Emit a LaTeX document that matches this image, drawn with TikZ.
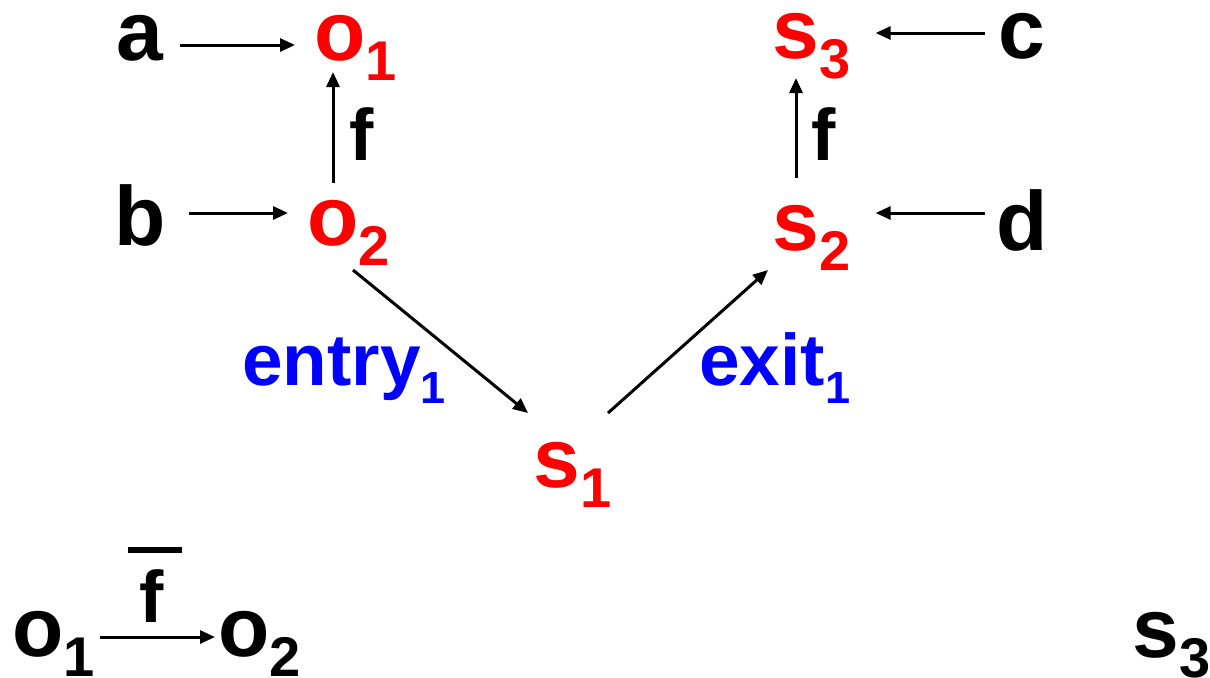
\documentclass[tikz,border=0pt]{standalone}
\usepackage{fontspec}
\setmainfont{Liberation Sans}
\usepackage{xcolor}
\usetikzlibrary{arrows.meta}

\newcommand{\bsub}[1]{\raisebox{-10pt}{\fontsize{28}{28}\selectfont #1}}
\newcommand{\ssub}[1]{\raisebox{-9pt}{\fontsize{22.5}{22.5}\selectfont #1}}

\tikzset{
  big/.style={font=\bfseries\fontsize{42}{42}\selectfont, inner sep=0pt, anchor=base west},
  small/.style={font=\bfseries\fontsize{36.5}{36.5}\selectfont, inner sep=0pt, anchor=base west},
  arr/.style={->, line width=1.5pt},
}

\begin{document}
\begin{tikzpicture}[x=0.5pt, y=-0.5pt, >={Triangle[length=7.5pt,width=6.5pt]}]
\useasboundingbox (0,0) rectangle (1210,677);

% left column
\node[big] (a) at (116,60) {a};
\node[big, text=red] (o1) at (314,60) {o\bsub{1}};
\node[big] (b) at (114,245) {b};
\node[big, text=red] (o2) at (307,245) {o\bsub{2}};

% right column
\node[big, text=red] (s3) at (772,58) {s\bsub{3}};
\node[big] (c) at (998,58) {c};
\node[big, text=red] (s2) at (772,250) {s\bsub{2}};
\node[big] (d) at (996,250) {d};

% bottom of the V
\node[big, text=red] (s1) at (533,487) {s\bsub{1}};
\node[small, text=blue] (entry) at (242,385) {entry\ssub{1}};
\node[small, text=blue] (exit) at (699,385) {exit\ssub{1}};

\draw[arr] ([shift={(8pt,7.5pt)}]a.base east) -- ([shift={(-9.5pt,7.5pt)}]o1.base west);
\draw[arr] ([shift={(11.5pt,16pt)}]b.base east) -- ([shift={(-9.5pt,16pt)}]o2.base west);
\draw[arr] ([shift={(-6.5pt,12.5pt)}]c.base west) -- ([shift={(12.5pt,12.5pt)}]s3.base east);
\draw[arr] ([shift={(-5.5pt,18.5pt)}]d.base west) -- ([shift={(12.5pt,18.5pt)}]s2.base east);

\draw[arr] ([shift={(13pt,31pt)}]o2.base west) -- ([shift={(13pt,-6pt)}]o2.base west |- o1.base);
\draw[arr] ([shift={(12pt,36pt)}]s2.base west) -- ([shift={(12pt,-10pt)}]s3.base west);
\node[small] (f1) at (349,160) {f};
\node[small] (f2) at (811,160) {f};

\draw[arr] ([shift={(23pt,-12.5pt)}]o2.base west) -- ([shift={(-2.5pt,37pt)}]s1.base west);
\draw[arr] ([shift={(37.5pt,37pt)}]s1.base west) -- ([shift={(-2pt,-10pt)}]s2.base west);

% bottom row
\node[big] (p1) at (12,656) {o\bsub{1}};
\node[big] (p2) at (218,656) {o\bsub{2}};
\node[small] (fbar) at (139,622) {f};
\draw[line width=3pt] ([shift={(-12pt,9.5pt)}]fbar.north) -- ([shift={(15pt,9.5pt)}]fbar.north);
\draw[arr] ([shift={(2.5pt,9.5pt)}]p1.base east) -- ([shift={(-1.5pt,9.5pt)}]p2.base west);
\node[big] (s3b) at (1132,657) {s\bsub{3}};

\end{tikzpicture}
\end{document}
